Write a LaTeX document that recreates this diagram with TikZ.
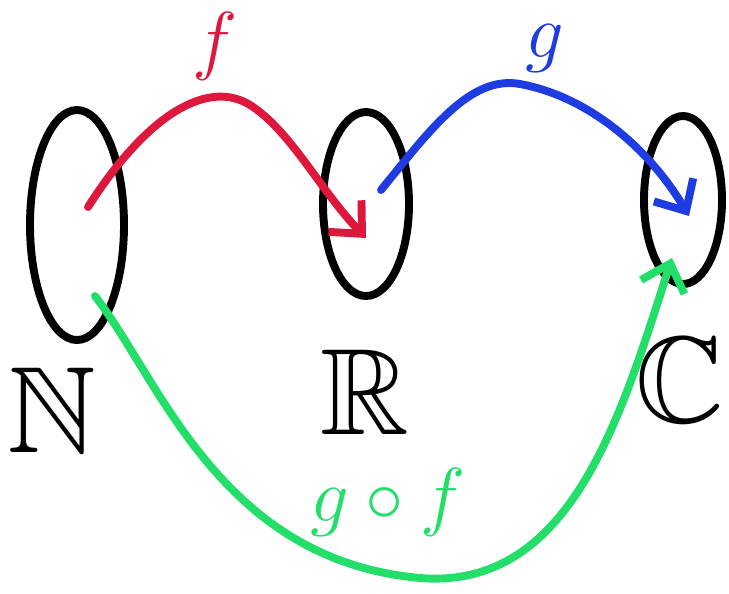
\documentclass[tikz,border=0pt]{standalone}
\usepackage{amssymb}
\usetikzlibrary{arrows.meta}
\definecolor{fred}{RGB}{222,24,60}
\definecolor{gblue}{RGB}{30,60,225}
\definecolor{gfgreen}{RGB}{35,222,105}
\tikzset{
  mapline/.style={line width=4.5pt,line cap=round,line join=round,-{Straight Barb[length=14pt,width=26pt,line width=4.5pt]}},
  setlabel/.style={font=\fontsize{70}{74}\selectfont,inner sep=0pt},
  maplabel/.style={font=\Huge,scale=1.75,inner sep=0pt}
}
\begin{document}
\begin{tikzpicture}[x=0.02cm,y=-0.02cm]
\useasboundingbox (0,0) rectangle (729,593);
% sets
\draw[line width=4.5pt] (77,225) ellipse [x radius=47, y radius=115];
\draw[line width=4.5pt] (366,204) ellipse [x radius=43, y radius=92];
\draw[line width=4.5pt] (683,200) ellipse [x radius=39, y radius=84];
\node[setlabel] (N) at (52,410) {$\mathbb{N}$};
\node[setlabel] (R) at (365,392) {$\mathbb{R}$};
\node[setlabel] (C) at (680,380) {$\mathbb{C}$};
% points
\coordinate (fs) at (88,207);
\coordinate (fe) at (366,238);
\coordinate (gs) at (381,190);
\coordinate (ge) at (689,216);
\coordinate (hs) at (95,296);
\coordinate (he) at (672,258);
% maps
\draw[mapline,fred] (fs) .. controls (150,110) and (210,80) .. (250,105) .. controls (290,130) and (320,190) .. (fe);
\draw[mapline,gblue] (gs) .. controls (430,130) and (470,75) .. (520,84) .. controls (590,97) and (650,150) .. (ge);
\draw[mapline,gfgreen] (hs) .. controls (160,380) and (220,560) .. (420,578) .. controls (570,590) and (620,420) .. (he);
% labels
\node[maplabel,text=fred] (flab) at (215,46) {$f$};
\node[maplabel,text=gblue] (glab) at (545,48) {$g$};
\node[maplabel,text=gfgreen] (gflab) at (388,502) {$g\circ f$};
\end{tikzpicture}
\end{document}
